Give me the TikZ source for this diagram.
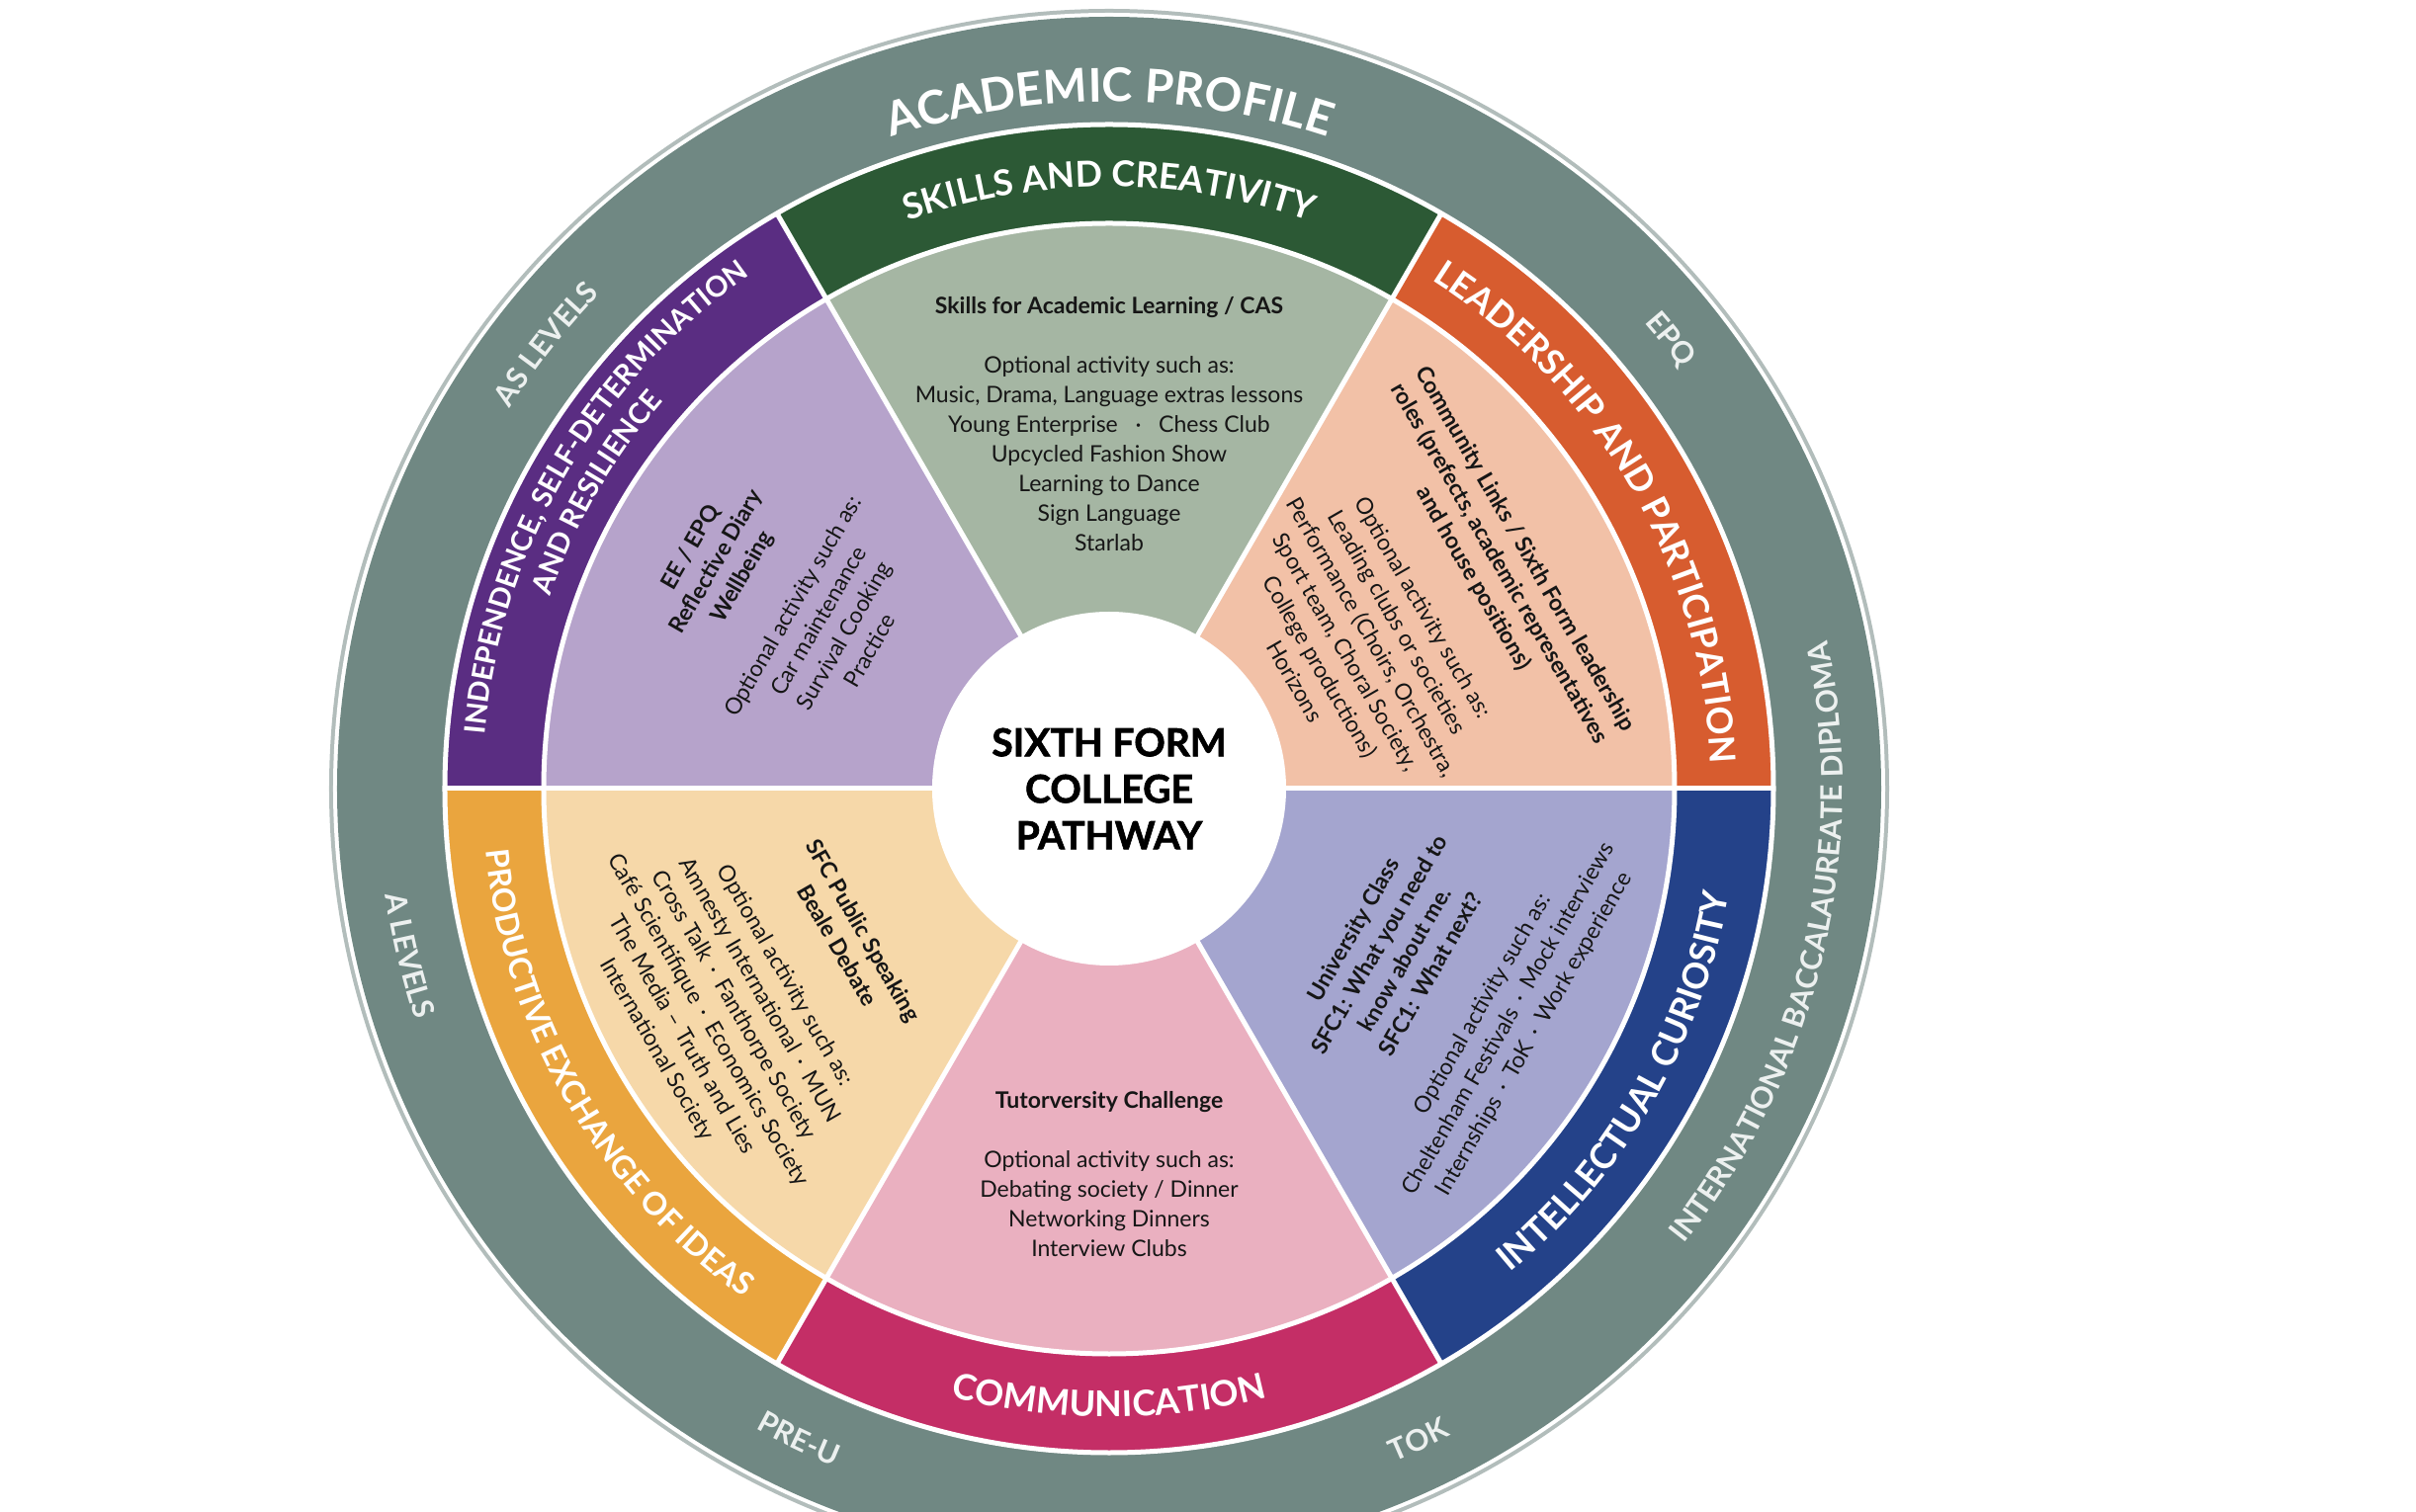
\documentclass[tikz,border=0pt]{standalone}
\usepackage{fontspec}
\setmainfont{Lato}
\newfontfamily\hubfamily{Lato}[BoldFeatures={FakeBold=1.6}]
\usetikzlibrary{decorations.text}
\definecolor{ring}{RGB}{112,136,131}
\definecolor{ringedge}{RGB}{178,189,187}
\definecolor{gband}{RGB}{44,89,53}
\definecolor{glight}{RGB}{165,182,163}
\definecolor{oband}{RGB}{215,92,47}
\definecolor{olight}{RGB}{242,193,167}
\definecolor{bband}{RGB}{36,66,137}
\definecolor{blight}{RGB}{164,165,207}
\definecolor{mband}{RGB}{196,46,102}
\definecolor{plight}{RGB}{234,176,192}
\definecolor{yband}{RGB}{234,165,62}
\definecolor{ylight}{RGB}{246,216,169}
\definecolor{uband}{RGB}{90,45,130}
\definecolor{ulight}{RGB}{182,163,203}
\definecolor{ringtext}{RGB}{236,240,239}
\definecolor{bodytext}{RGB}{22,22,22}
\newcommand\bandfnt{\fontsize{36pt}{36pt}\selectfont\bfseries\color{white}}
\newcommand\bandmidfnt{\fontsize{32pt}{32pt}\selectfont\bfseries\color{white}}
\newcommand\bandsmallfnt{\fontsize{29pt}{29pt}\selectfont\bfseries\color{white}}
\newcommand\titlefnt{\fontsize{47pt}{47pt}\selectfont\bfseries\color{white}}
\newcommand\ringfnt{\fontsize{30pt}{30pt}\selectfont\bfseries\color{ringtext}}
\tikzset{
  arctext/.style={decorate, decoration={text along path, text align=center, text={#1}}},
  sep/.style={white, line width=5pt},
  block/.style={align=center, inner sep=0pt, text=bodytext, font=\fontsize{23pt}{30pt}\selectfont},
  hub/.style={align=center, inner sep=0pt, text=black, font=\hubfamily\fontsize{39pt}{47pt}\selectfont\bfseries}
}
\begin{document}
\begin{tikzpicture}
\useasboundingbox (-1122pt,-732pt) rectangle (1322pt,798pt);
\clip (-1122pt,-732pt) rectangle (1322pt,798pt);
\fill[white] (-1122pt,-732pt) rectangle (1322pt,798pt);
% outer ring
\fill[ringedge] (0,0) circle[radius=789pt];
\fill[white] (0,0) circle[radius=785pt];
\fill[ring] (0,0) circle[radius=781pt];
% sectors
\foreach \a/\band/\light in {0/oband/olight, 60/gband/glight, 120/uband/ulight, 180/yband/ylight, 240/mband/plight, 300/bband/blight}{
  \fill[\band] (0,0) -- (\a:672pt) arc[start angle=\a, end angle=\a+60, radius=672pt] -- cycle;
  \fill[\light] (0,0) -- (\a:572pt) arc[start angle=\a, end angle=\a+60, radius=572pt] -- cycle;
}
\draw[sep] (0,0) circle[radius=672pt];
\draw[sep] (0,0) circle[radius=572pt];
\foreach \a in {0,60,...,300}{\draw[sep] (0,0) -- (\a:672pt);}
\fill[white] (0,0) circle[radius=179pt];
% centre
\node[hub] (hub) at (0,0) {SIXTH FORM\\COLLEGE\\PATHWAY};
% outer ring labels
\path[arctext={|\titlefnt|ACADEMIC PROFILE}] (135:695pt) arc[start angle=135, end angle=45, radius=695pt];
\path[arctext={|\ringfnt|AS LEVELS}] (171.7:718pt) arc[start angle=171.7, end angle=111.7, radius=718pt];
\path[arctext={|\ringfnt|EPQ}] (68.7:718pt) arc[start angle=68.7, end angle=8.7, radius=718pt];
\path[arctext={|\ringfnt|A LEVELS}] (163.4:740pt) arc[start angle=163.4, end angle=223.4, radius=740pt];
\path[arctext={|\ringfnt|INTERNATIONAL BACCALAUREATE DIPLOMA}] (306.6:742pt) arc[start angle=306.6, end angle=386.6, radius=742pt];
\path[arctext={|\ringfnt|PRE-U}] (214.5:740pt) arc[start angle=214.5, end angle=274.5, radius=740pt];
\path[arctext={|\ringfnt|TOK}] (265.4:740pt) arc[start angle=265.4, end angle=325.4, radius=740pt];
% band labels
\path[arctext={|\bandfnt|SKILLS AND CREATIVITY}] (125:609pt) arc[start angle=125, end angle=55, radius=609pt];
\path[arctext={|\bandfnt|LEADERSHIP AND PARTICIPATION}] (65:609pt) arc[start angle=65, end angle=-5, radius=609pt];
\path[arctext={|\bandfnt|INTELLECTUAL CURIOSITY}] (295:636pt) arc[start angle=295, end angle=365, radius=636pt];
\path[arctext={|\bandfnt|COMMUNICATION}] (235:636pt) arc[start angle=235, end angle=305, radius=636pt];
\path[arctext={|\bandmidfnt|PRODUCTIVE EXCHANGE OF IDEAS}] (175:634pt) arc[start angle=175, end angle=245, radius=634pt];
\path[arctext={|\bandsmallfnt|INDEPENDENCE, SELF-DETERMINATION}] (185:634pt) arc[start angle=185, end angle=115, radius=634pt];
\path[arctext={|\bandsmallfnt|AND RESILIENCE}] (185:598pt) arc[start angle=185, end angle=115, radius=598pt];
% wedge texts
\node[block, anchor=north] (skills) at (90:498pt) {\textbf{Skills for Academic Learning / CAS}\\[30pt]
Optional activity such as:\\
Music, Drama, Language extras lessons\\
Young Enterprise \ \ · \ \ Chess Club\\
Upcycled Fashion Show\\
Learning to Dance\\
Sign Language\\
Starlab};
\node[block, anchor=north, rotate=-60] (leader) at (30:496pt) {\textbf{Community Links / Sixth Form leadership}\\
\textbf{roles (prefects, academic representatives}\\
\textbf{and house positions)}\\[30pt]
Optional activity such as:\\
Leading clubs or societies\\
Performance (Choirs, Orchestra,\\
Sport team, Choral Society,\\
College productions)\\
Horizons};
\node[block, anchor=north, rotate=60] (indep) at (150:499pt) {\textbf{EE / EPQ}\\
\textbf{Reflective Diary}\\
\textbf{Wellbeing}\\[30pt]
Optional activity such as:\\
Car maintenance\\
Survival Cooking\\
Practice};
\node[block, anchor=north, rotate=-60] (exchange) at (210:278pt) {\textbf{SFC Public Speaking}\\
\textbf{Beale Debate}\\[30pt]
Optional activity such as:\\
Amnesty International \,·\, MUN\\
Cross Talk \,·\, Fanthorpe Society\\
Café Scientifique \,·\, Economics Society\\
The Media – Truth and Lies\\
International Society};
\node[block, anchor=north, rotate=60] (curio) at (-30:276pt) {\textbf{University Class}\\
\textbf{SFC1: What you need to}\\
\textbf{know about me.}\\
\textbf{SFC1: What next?}\\[30pt]
Optional activity such as:\\
Cheltenham Festivals \,·\, Mock interviews\\
Internships \,·\, ToK \,·\, Work experience};
\node[block, anchor=north] (comm) at (270:306pt) {\textbf{Tutorversity Challenge}\\[30pt]
Optional activity such as:\\
Debating society / Dinner\\
Networking Dinners\\
Interview Clubs};
\end{tikzpicture}
\end{document}
